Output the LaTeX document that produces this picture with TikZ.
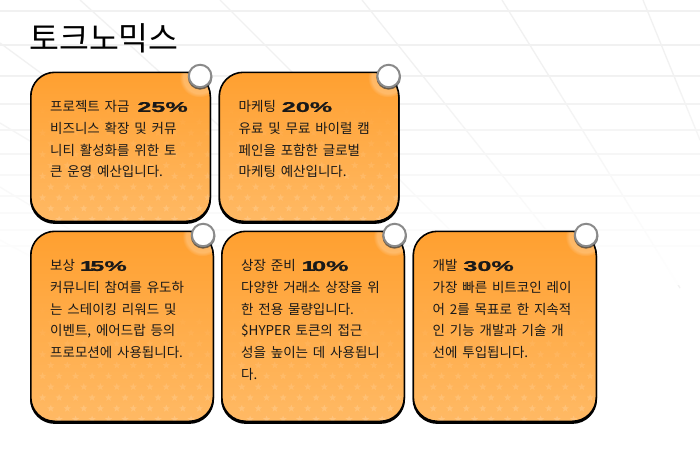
\documentclass[tikz,border=0pt]{standalone}
\usepackage{fontspec}
\usetikzlibrary{shadows,fadings}
\setmainfont[WordSpace=1.6]{Noto Sans CJK KR}
\newfontfamily\pctfont[FakeStretch=1.8,FakeBold=1.2]{Liberation Sans}
\newcommand{\pct}[1]{\hspace{3pt}{\pctfont\bfseries\fontsize{14}{21.7}\selectfont #1}}
\newcommand{\cardstar}[3]{\fill[white,sharp corners,opacity=#3] ([shift={(#1,#2)}]path picture bounding box.south west) +(0,-3.8) -- +(0.94,-1.29) -- +(3.61,-1.17) -- +(1.52,0.49) -- +(2.23,3.07) -- +(0,1.6) -- +(-2.23,3.07) -- +(-1.52,0.49) -- +(-3.61,-1.17) -- +(-0.94,-1.29) -- cycle;}
\definecolor{cardtop}{HTML}{FFA030}
\definecolor{cardbottom}{HTML}{FFB964}
\definecolor{gridline}{HTML}{F1F1F1}
\definecolor{pinring}{HTML}{8A8A8A}
\tikzset{
  gridstroke/.style={draw=gridline, line width=1.3pt},
  card/.style={anchor=north west, rounded corners=24pt, draw=black, line width=1.6pt, minimum height=#1, inner sep=0pt,
    top color=cardtop, middle color=cardtop, bottom color=cardbottom,
    general shadow={fill=black, draw=black, shadow xshift=0pt, shadow yshift=-1.8pt},
    path picture={
      \foreach \row in {0,...,10} {
        \foreach \col in {0,...,11} {
          \pgfmathsetmacro{\starx}{20+16.5*\col-8.2*mod(\row+1,2)}
          \pgfmathsetmacro{\stary}{-2-10.8*\row}
          \pgfmathsetmacro{\staralpha}{max(0.17-0.016*\row,0)}
          \cardstar{\starx}{\stary}{\staralpha}
        }
      }
      \fill[white, sharp corners, opacity=.25, path fading=circle with fuzzy edge 20 percent] ([shift={(-11,5)}]path picture bounding box.north east) circle (20);
    }},
  cardpin/.style={circle, fill=white, draw=pinring, line width=2pt, minimum size=22.5pt, inner sep=0pt,
    general shadow={fill=black!80, draw=black!80, opacity=.65, shadow xshift=0pt, shadow yshift=-1.4pt}},
  cardtext/.style={anchor=north west, inner sep=0pt, align=left, text=black!90, font=\fontsize{13.5}{21.7}\selectfont, xshift=20pt, yshift=-29pt},
  pagetitle/.style={anchor=west, inner sep=0pt, font=\fontsize{32.5}{36}\selectfont, text=black}
}

\begin{document}
\begin{tikzpicture}[x=1pt,y=-1pt]
    \useasboundingbox (0,0) rectangle (700,453);
    \fill [white] (0,0) rectangle (700,453); % page background

    % faint perspective grid behind the cards
    \foreach \gridy in {11,45,76,104,130,154,175,196,213,230,246}
      \draw [gridstroke] (0,\gridy) -- (700,\gridy);
    \draw [gridstroke] (80,0) -- (290,190);
    \draw [gridstroke] (220,0) -- (500,280);
    \draw [gridstroke] (362,0) -- (590,285);
    \draw [gridstroke] (502,0) -- (680,288);
    \draw [gridstroke] (643,0) -- (700,140);
    \draw [gridstroke] (0,43) -- (200,190);
    \draw [gridstroke] (0,123) -- (120,195);
    \draw [gridstroke] (0,187) -- (120,260);
    \draw [gridstroke] (0,240) -- (60,272);
    \fill [white, path fading=north] (0,60) rectangle (700,285); % grid dies out downward

    \node [pagetitle] (title) at (29,38) {토크노믹스};

    % top row
    \node [card=149pt, minimum width=179.5pt] (card1) at (30,71.5) {};
    \node [card=149pt, minimum width=179.5pt] (card2) at (218.5,71.5) {};
    % bottom row
    \node [card=190pt, minimum width=182.5pt] (card3) at (30,230.5) {};
    \node [card=190pt, minimum width=182.5pt] (card4) at (221,230.5) {};
    \node [card=190pt, minimum width=183pt] (card5) at (412.5,230.5) {};

    \node [cardpin] (pin1) at ([shift={(-11,4.5)}]card1.north east) {};
    \node [cardpin] (pin2) at ([shift={(-11,4.5)}]card2.north east) {};
    \node [cardpin] (pin3) at ([shift={(-11,4.5)}]card3.north east) {};
    \node [cardpin] (pin4) at ([shift={(-10.5,4.5)}]card4.north east) {};
    \node [cardpin] (pin5) at ([shift={(-11,4.5)}]card5.north east) {};

    \node [cardtext] (text1) at (card1.north west) {프로젝트 자금 \pct{25\%}\\비즈니스 확장 및 커뮤\\니티 활성화를 위한 토\\큰 운영 예산입니다.};
    \node [cardtext] (text2) at (card2.north west) {마케팅 \pct{\hspace{-2pt}20\%}\\유료 및 무료 바이럴 캠\\페인을 포함한 글로벌\\마케팅 예산입니다.};
    \node [cardtext] (text3) at (card3.north west) {보상 \pct{\hspace{-3pt}1\hspace{-3.5pt}5\%}\\커뮤니티 참여를 유도하\\는 스테이킹 리워드 및\\이벤트, 에어드랍 등의\\프로모션에 사용됩니다.};
    \node [cardtext] (text4) at (card4.north west) {상장 준비 \pct{\hspace{-2pt}1\hspace{-3.5pt}0\%}\\다양한 거래소 상장을 위\\한 전용 물량입니다.\\\$HYPER 토큰의 접근\\성을 높이는 데 사용됩니\\다.};
    \node [cardtext] (text5) at (card5.north west) {개발 \pct{\hspace{-2pt}30\%}\\가장 빠른 비트코인 레이\\어 2를 목표로 한 지속적\\인 기능 개발과 기술 개\\선에 투입됩니다.};
\end{tikzpicture}
\end{document}
